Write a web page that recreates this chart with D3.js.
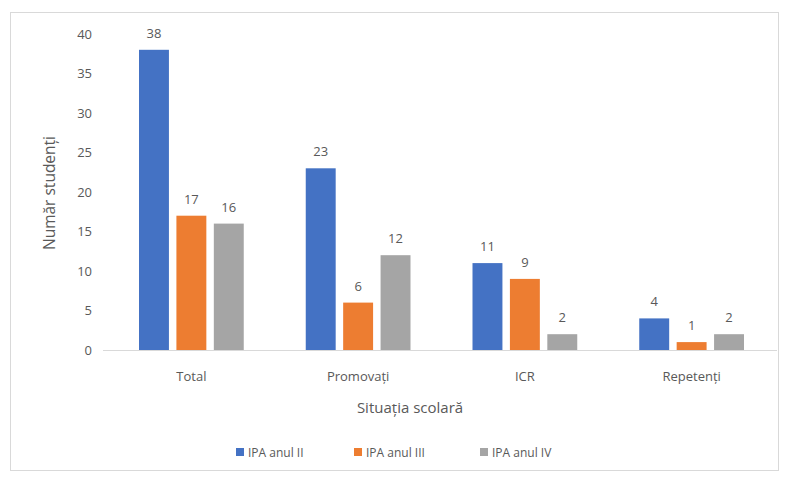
<!DOCTYPE html>
<html><head><meta charset="utf-8">
<script src="https://cdn.jsdelivr.net/npm/d3@7"></script>
<style>body{margin:0;background:#fff}text{font-family:"Open Sans","Liberation Sans",sans-serif;fill:#595959}</style>
</head><body>
<svg id="c" width="785" height="477"></svg>
<script>
const categories = ["Total", "Promovați", "ICR", "Repetenți"];
const series = ["IPA anul II", "IPA anul III", "IPA anul IV"];
const valuesII = [38, 23, 11, 4];
const valuesIII = [17, 6, 9, 1];
const valuesIV = [16, 12, 2, 2];
const yTicks = [0, 5, 10, 15, 20, 25, 30, 35, 40];
const colors = ["#4472C4", "#ED7D31", "#A5A5A5"];
const allValues = [valuesII, valuesIII, valuesIV];

const svg = d3.select("#c");
svg.append("rect").attr("x", 10.5).attr("y", 12.5).attr("width", 768).attr("height", 458)
  .attr("fill", "#fff").attr("stroke", "#d9d9d9");

const x0 = d3.scaleBand().domain(categories).range([108, 775]);
const x1 = d3.scaleBand().domain(series).range([31, x0.bandwidth() - 31]).paddingInner(0.2);
const y = d3.scaleLinear().domain([0, 40]).range([350, 34]);

const ya = svg.append("g").attr("transform", "translate(92,0)")
  .call(d3.axisLeft(y).tickValues(yTicks).tickSize(0).tickPadding(0));
ya.select(".domain").remove();
ya.selectAll("text").style("font-size", "13px").attr("fill", "#595959").style("font-family", null);

svg.append("line").attr("x1", 103).attr("x2", 777).attr("y1", y(0) + 0.5).attr("y2", y(0) + 0.5)
  .attr("stroke", "#d9d9d9");

const xa = svg.append("g").attr("transform", `translate(0,${y(0)})`)
  .call(d3.axisBottom(x0).tickSize(0).tickPadding(22));
xa.select(".domain").remove();
xa.selectAll("text").style("font-size", "13px").attr("fill", "#595959").style("font-family", null);

const groups = svg.append("g").selectAll("g").data(categories).join("g")
  .attr("transform", d => `translate(${x0(d)},0)`);
series.forEach((s, si) => {
  groups.append("rect")
    .attr("x", x1(s)).attr("width", x1.bandwidth())
    .attr("y", (d, i) => y(allValues[si][i]))
    .attr("height", (d, i) => y(0) - y(allValues[si][i]))
    .attr("fill", colors[si]);
  groups.append("text")
    .attr("x", x1(s) + x1.bandwidth() / 2)
    .attr("y", (d, i) => y(allValues[si][i]) - 12)
    .attr("text-anchor", "middle").style("font-size", "13px")
    .text((d, i) => allValues[si][i]);
});

svg.append("text").attr("x", 410).attr("y", 413).attr("text-anchor", "middle")
  .style("font-size", "15px").text("Situația scolară");
svg.append("text").attr("transform", "translate(55,193) rotate(-90)").attr("text-anchor", "middle")
  .style("font-size", "15.5px").text("Număr studenți");

const legX = [236, 354, 480];
const lg = svg.append("g").selectAll("g").data(series).join("g")
  .attr("transform", (d, i) => `translate(${legX[i]},452)`);
lg.append("rect").attr("x", 0).attr("y", -4).attr("width", 8).attr("height", 8).attr("fill", (d, i) => colors[i]);
lg.append("text").attr("x", 12).attr("y", 4.5).style("font-size", "12px").text(d => d);
</script>
</body></html>
